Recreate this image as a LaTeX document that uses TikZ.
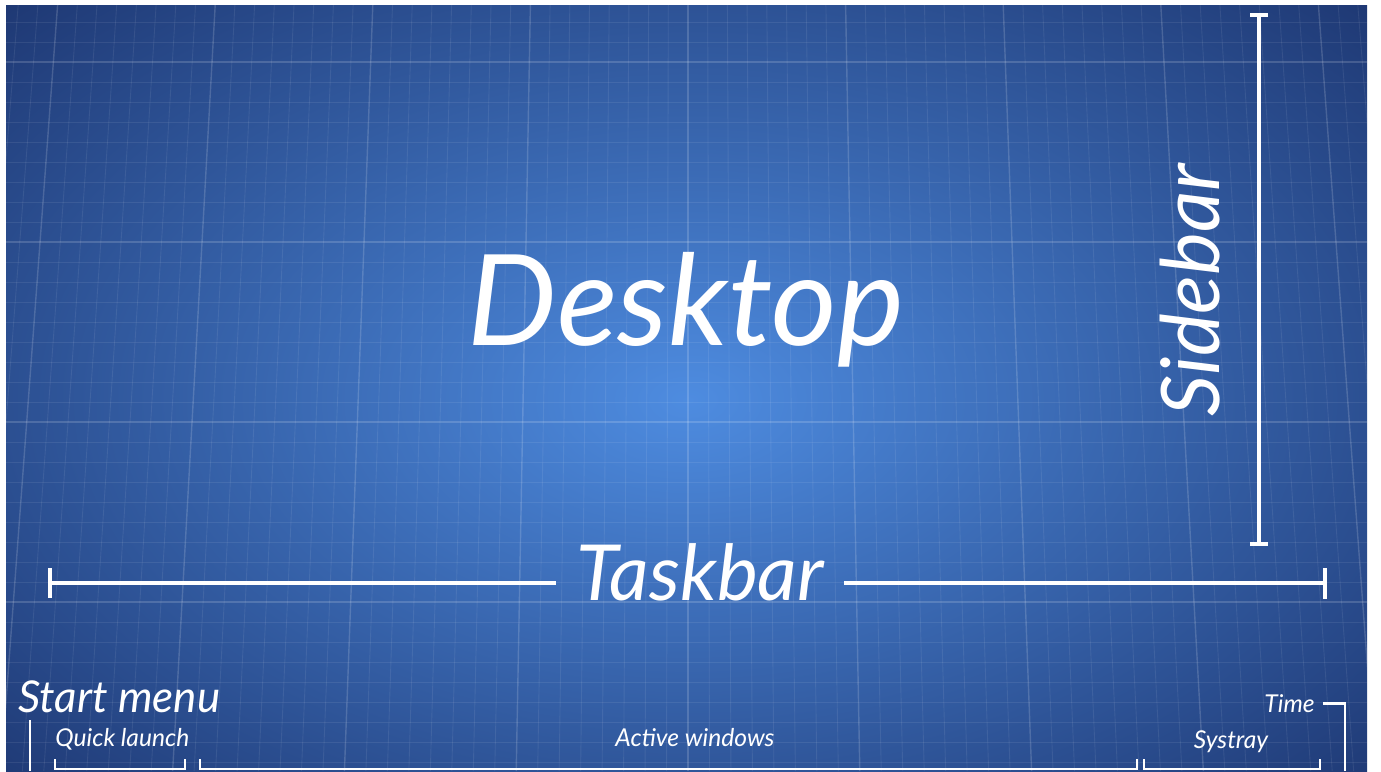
\documentclass[tikz,border=0pt]{standalone}
\usepackage{fontspec}
\setmainfont{Lato}
\usetikzlibrary{calc}
\definecolor{bpinner}{RGB}{78,140,224}
\definecolor{bpouter}{RGB}{20,38,92}
\tikzset{hand/.style = {text=white, inner sep=0pt, font=\itshape\fontsize{#1}{#1}\selectfont}}
\tikzset{dimline/.style = {draw=white, line width=2.2pt}}
\tikzset{bracket/.style = {draw=white, line width=1.6pt}}
\tikzset{minorline/.style = {white, opacity=0.08, line width=0.5pt}}
\tikzset{majorline/.style = {white, opacity=0.16, line width=0.8pt}}

\begin{document}
\begin{tikzpicture}[x=0.02cm, y=-0.02cm]
            % Paper
            \useasboundingbox (0,0) rectangle (1381,771);
            \fill[white] (0,0) rectangle (1381,771);
            \begin{scope}
                \clip (6,5) rectangle (1367,771);
                \shade[inner color=bpinner, outer color=bpouter] (688,400) ellipse [x radius=1150, y radius=700];
                % Grid
                \foreach \i in {-36,...,36} {
                    \pgfmathsetmacro{\xt}{688+19.7*\i}
                    \pgfmathsetmacro{\xb}{688+19.7*\i*1.09}
                    \pgfmathtruncatemacro{\m}{mod(abs(\i),8)}
                    \ifnum\m=0 \draw[majorline] (\xt,5) -- (\xb,771); \else \draw[minorline] (\xt,5) -- (\xb,771); \fi
                }
                \foreach \j in {0,...,38} {
                    \pgfmathsetmacro{\yy}{2+20*\j}
                    \pgfmathtruncatemacro{\m}{mod(\j+6,9)}
                    \ifnum\m=0 \draw[majorline] (6,\yy) -- (1367,\yy); \else \draw[minorline] (6,\yy) -- (1367,\yy); \fi
                }
            \end{scope}

            % Labels
            \node[hand=72, anchor=base] (desktop) at (686,345) {Desktop};
            \node[hand=44, anchor=base, inner xsep=0.4cm] (taskbar) at (700,600) {Taskbar};
            \node[hand=46, rotate=90] (sidebar) at (1190,290) {Sidebar};
            \node[hand=25, anchor=base west] (start) at (18,712) {Start menu};
            \node[hand=14, anchor=base west] (quick) at (55,746) {Quick launch};
            \node[hand=14, anchor=base] (active) at (695,746) {Active windows};
            \node[hand=14, anchor=base] (systray) at (1231,748) {Systray};
            \node[hand=14, anchor=base east] (time) at (1315,712) {Time};

            % Ends
            \coordinate (tbL) at (50,583);
            \coordinate (tbR) at (1325,583);
            \coordinate (sbT) at (1259,15);
            \coordinate (sbB) at (1259,544);
            \coordinate (smT) at (30,720);
            \coordinate (smB) at (30,771);
            \coordinate (qlL) at (55,769);
            \coordinate (qlR) at (185,769);
            \coordinate (awL) at (200,769);
            \coordinate (awR) at (1137,769);
            \coordinate (stL) at (1144,769);
            \coordinate (stR) at (1320,769);
            \coordinate (tmB) at (1345,771);

            % Taskbar
            \draw[dimline] (tbL) -- (tbL -| taskbar.west);
            \draw[dimline] (tbR -| taskbar.east) -- (tbR);
            \draw[dimline] ($(tbL)+(0,-15)$) -- ($(tbL)+(0,15)$);
            \draw[dimline] ($(tbR)+(0,-15)$) -- ($(tbR)+(0,16)$);

            % Sidebar
            \draw[dimline] (sbT) -- (sbB);
            \draw[dimline] ($(sbT)+(-9,0)$) -- ($(sbT)+(9,0)$);
            \draw[dimline] ($(sbB)+(-9,0)$) -- ($(sbB)+(9,0)$);

            % Brackets
            \draw[bracket] (smT) -- (smB);
            \draw[bracket] ($(qlL)+(0,-10)$) -- (qlL) -- (qlR) -- ($(qlR)+(0,-10)$);
            \draw[bracket] ($(awL)+(0,-10)$) -- (awL) -- (awR) -- ($(awR)+(0,-10)$);
            \draw[bracket] ($(stL)+(0,-10)$) -- (stL) -- (stR) -- ($(stR)+(0,-10)$);
            \draw[bracket] ($(time.east)+(8,0)$) -| (tmB);

\end{tikzpicture}
\end{document}
